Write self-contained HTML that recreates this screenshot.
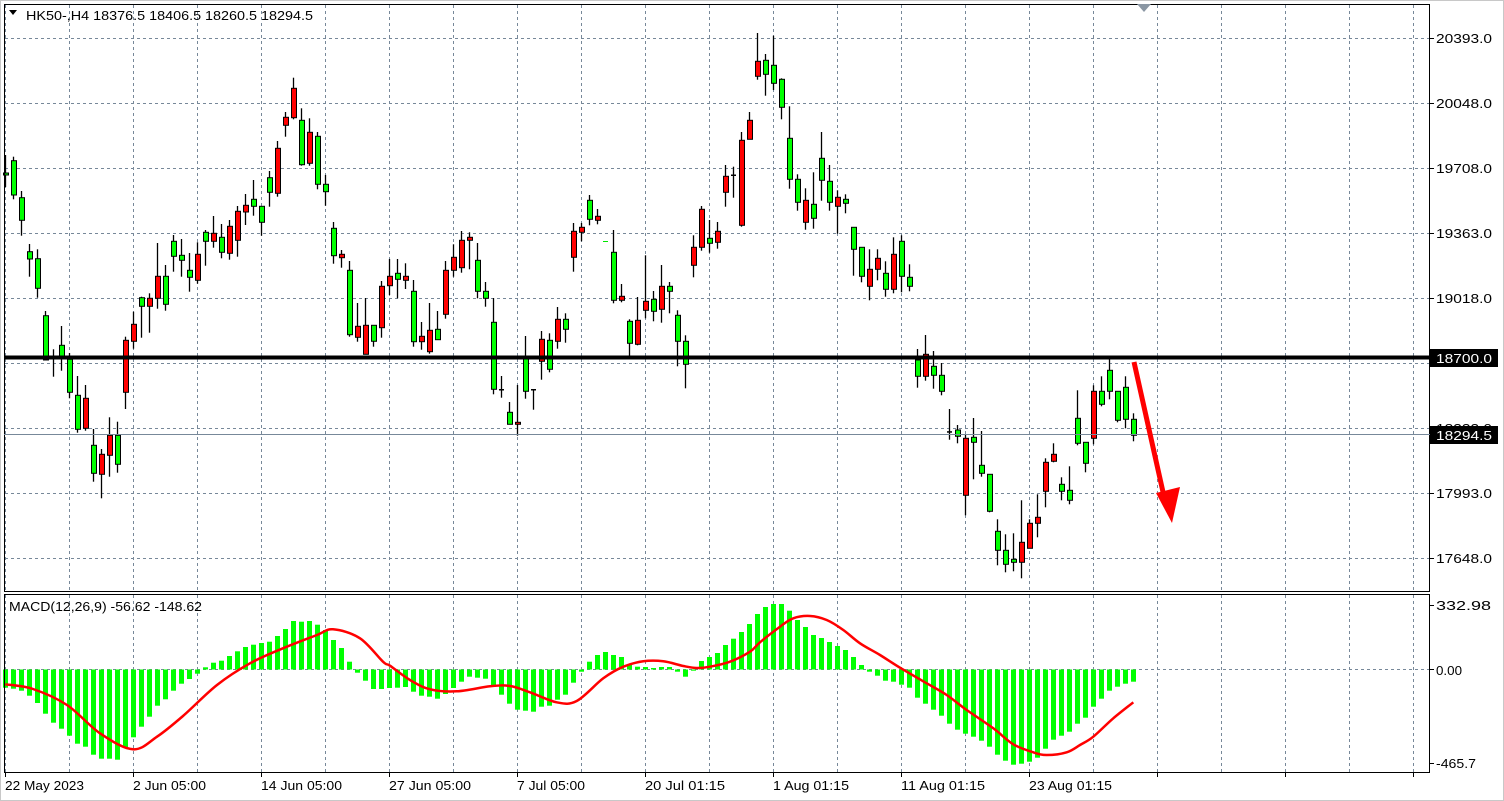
<!DOCTYPE html>
<html><head><meta charset="utf-8"><style>
html,body{margin:0;padding:0;background:#fff;width:1504px;height:801px;overflow:hidden}
svg{display:block}
text{font-family:"Liberation Sans",sans-serif;font-size:13px;fill:#000}
</style></head><body>
<svg id="s" width="1504" height="801" xmlns="http://www.w3.org/2000/svg">
<rect x="0" y="0" width="1504" height="801" fill="#fff"/>
<rect x="0.5" y="0.5" width="1503" height="800" fill="none" stroke="#c8c8c8"/>
<g id="grid"></g>
<g id="hist"></g>
<g id="cand"></g>
<rect x="4.5" y="4.5" width="1425" height="587" fill="none" stroke="#000"/>
<rect x="4.5" y="594.5" width="1425" height="178" fill="none" stroke="#000"/>
<line x1="4" y1="434.5" x2="1430" y2="434.5" stroke="#778899" stroke-width="1"/>
<line x1="4" y1="357.5" x2="1430" y2="357.5" stroke="#000" stroke-width="4"/>
<path id="sig" fill="none" stroke="#ff0000" stroke-width="2.5" stroke-linejoin="round"/>
<line x1="1134" y1="362" x2="1163" y2="492" stroke="#ff0000" stroke-width="5"/>
<polygon points="1156,493 1180,487 1172,523" fill="#ff0000"/>
<polygon points="1137,4 1151,4 1144,12" fill="#8a96a3"/>
<polygon points="9,10 17,10 13,15" fill="#000"/>
<text x="26" y="20" textLength="287" lengthAdjust="spacingAndGlyphs">HK50-,H4  18376.5 18406.5 18260.5 18294.5</text>
<text x="9" y="611" textLength="193" lengthAdjust="spacingAndGlyphs">MACD(12,26,9) -56.62 -148.62</text>
<g id="ax"></g>
<g id="lbl"></g>
<rect x="1430" y="349" width="68" height="18" fill="#000"/>
<text x="1436" y="363" style="fill:#fff" textLength="56" lengthAdjust="spacingAndGlyphs">18700.0</text>
<rect x="1430" y="426" width="68" height="18" fill="#000"/>
<text x="1436" y="440" style="fill:#fff" textLength="56" lengthAdjust="spacingAndGlyphs">18294.5</text>
</svg>
<script>
var NS="http://www.w3.org/2000/svg";
function el(p,t,a,txt){var e=document.createElementNS(NS,t);for(var k in a)e.setAttribute(k,a[k]);if(txt)e.textContent=txt;p.appendChild(e);return e;}
var grid=document.getElementById('grid'),ax=document.getElementById('ax'),lbl=document.getElementById('lbl');
for(var k=0;k<=22;k++){var x=5+64*k+0.5;
 el(grid,'line',{x1:x,y1:5,x2:x,y2:591,stroke:'#778899','stroke-dasharray':'3,3'});
 el(grid,'line',{x1:x,y1:595,x2:x,y2:772,stroke:'#778899','stroke-dasharray':'3,3'});
 if(k%2==0){el(ax,'line',{x1:x,y1:772,x2:x,y2:777,stroke:'#000'});}
}
[38,103,168,233,298,363,428,493,558].forEach(function(y){
 el(grid,'line',{x1:5,y1:y+0.5,x2:1429,y2:y+0.5,stroke:'#778899','stroke-dasharray':'3,3'});
 el(ax,'line',{x1:1430,y1:y+0.5,x2:1434,y2:y+0.5,stroke:'#000'});
});
el(grid,'line',{x1:5,y1:669.5,x2:1429,y2:669.5,stroke:'#778899','stroke-dasharray':'3,3'});
[605,669,763].forEach(function(y){el(ax,'line',{x1:1430,y1:y+0.5,x2:1434,y2:y+0.5,stroke:'#000'});});
[[1436,43,'20393.0',56],[1436,108,'20048.0',56],[1436,173,'19708.0',56],[1436,238,'19363.0',56],[1436,303,'19018.0',56],[1436,433,'18333.0',56],[1436,498,'17993.0',56],[1436,563,'17648.0',56],
 [1436,610,'332.98',55],[1436,675,'0.00',26],[1436,768,'-465.7',40],
 [5,790,'22 May 2023',79],[133,790,'2 Jun 05:00',73],[261,790,'14 Jun 05:00',81],[389,790,'27 Jun 05:00',82],[517,790,'7 Jul 05:00',68],[645,790,'20 Jul 01:15',80],[773,790,'1 Aug 01:15',76],[901,790,'11 Aug 01:15',84],[1029,790,'23 Aug 01:15',83]
].forEach(function(a){el(lbl,'text',{x:a[0],y:a[1],textLength:a[3],lengthAdjust:'spacingAndGlyphs'},a[2]);});
var C=[
[155,173,174,187,'g'],[156.7,160.7,195,199.3,'g'],[191,197.7,220.3,235.7,'g'],[244,251.7,259,276.7,'g'],[249.3,258.7,288.3,297.7,'g'],
[311,315.7,360,360,'g'],[349.3,357,358,376.7,'k'],[326,345.3,356.7,370.7,'g'],[353,359.3,392.3,398.3,'g'],[376,395.3,429.3,432.7,'g'],
[385,398.3,428.3,430.7,'r'],[429,445.3,473.3,481.7,'g'],[449,454.3,474.3,498.3,'r'],[417.3,435.3,455.3,476.7,'r'],[421.7,435.3,464.3,472.7,'g'],
[336.7,340.3,392.3,409,'r'],[311.7,324.3,341.3,348.7,'r'],[296.7,297.7,306.3,337.7,'g'],[293.3,298.3,306.3,332.7,'r'],[243,276.3,298.3,308.7,'r'],
[265,276.3,304.3,310.7,'g'],[235,241.3,256.3,271.7,'g'],[239,255.3,260.3,276.7,'g'],[253,270.3,277.3,291.7,'g'],[242.3,254.3,280.3,283.7,'r'],
[230,232.3,241.3,265.7,'g'],[216,233.3,241.3,247.7,'r'],[224,237.3,252.3,258.3,'g'],[220,226.3,253.3,259.7,'r'],[206,211.3,240.3,256.7,'r'],
[194,205.3,212,225,'r'],[180,199.3,206.3,215.7,'g'],[206.3,206.3,222.3,235.7,'g'],[171,177.7,192.3,206.7,'g'],[141,148.3,193.3,196.7,'r'],
[112,117.3,125.3,136.7,'r'],[77.7,88.3,117.7,119.3,'r'],[108.3,120.3,164.7,165.7,'g'],[118.3,132.3,163.3,165.7,'r'],[132,136.3,184.3,189.3,'g'],
[175,184.3,191.7,205.7,'g'],[222,228.3,255.7,263.7,'g'],[250,254.3,257.7,267.7,'r'],[261,270.3,334.7,336.7,'g'],[303,326.3,337.3,341.7,'r'],
[298,325.3,354.3,354.3,'r'],[325.3,325.3,341.3,346.7,'g'],[281,286.3,327.7,337.7,'r'],[259,276.3,285.7,295,'r'],[259,273.3,279.3,298.3,'g'],
[263.3,276.3,280.3,289,'r'],[280,291.3,341.7,346.7,'g'],[322,336.3,341.7,349.7,'r'],[303,330.3,351.7,353.7,'r'],[311,329.3,339.7,339.7,'g'],
[261,270.3,314.3,318.7,'r'],[244.3,257.3,270.3,276.7,'r'],[231,240.3,267.7,272.7,'r'],[232.3,237.3,240.3,269.3,'r'],[243,260.3,291.3,298.3,'g'],
[282,291.3,298.3,306.7,'g'],[298,322.3,389.3,394.3,'g'],[376,389,390,397.7,'k'],[402,412.3,424.3,424.3,'g'],[385,422.3,424.3,435.7,'r'],
[336,359,391.3,398.7,'g'],[389,389,390,409.7,'k'],[331,339.3,361.3,379.7,'r'],[333.3,340.3,369.3,372.3,'g'],[307,319.3,341.3,348.7,'r'],
[313.3,319.3,329.3,342.7,'g'],[223,231.3,257.3,271.7,'r'],[223,227.3,232.3,241.3,'r'],[195,200.3,219.3,225.3,'g'],[209,216.3,220.3,224.3,'r'],
[241,241,242,242,'d'],[230,252.3,300.3,303.3,'g'],[284,296.3,300.3,302.3,'r'],[319.3,321.3,343.3,355.7,'g'],[297,320.3,344.3,345.3,'r'],
[255.3,301.3,310.3,318.3,'r'],[291,299.3,311.3,321.3,'g'],[265,286.3,309.3,322.7,'r'],[282,286.3,291.3,313.3,'g'],[310.3,315.3,341.3,366.3,'g'],
[335.3,341.3,364.3,388.3,'g'],[235.3,247.3,265.3,277.3,'r'],[206,209.3,247.3,250.7,'r'],[220,238.3,243.3,252.7,'g'],[222,231.3,242.3,248.7,'r'],
[165,176.3,192.3,206.7,'r'],[166.7,174.5,175.5,197.7,'k'],[132,140.3,225.3,226.7,'r'],[112,120.3,139.3,139.3,'r'],[33,61.3,76.3,79.7,'r'],
[54,60.3,74.3,95.7,'g'],[35.7,65.3,83.3,90,'g'],[78.3,79.3,107.3,119.3,'g'],[106.3,138.3,179.3,188.7,'g'],[174.3,179.3,202.3,210.7,'g'],
[188.3,200.3,222.3,229.7,'r'],[172.3,204.3,218.3,228.7,'g'],[132,158.3,180.3,200.7,'g'],[165,181.3,202.3,210.7,'g'],[190.3,197.3,206.3,233.7,'r'],
[194.3,199.3,203.3,213.3,'g'],[227.3,227.3,249.3,275.7,'g'],[247.3,247.3,276.3,282.3,'g'],[249.3,269.3,286.3,300.3,'r'],[249.3,258.3,269.3,280.3,'r'],
[261.3,273.3,289.3,296.7,'g'],[237.3,254.3,289.3,293.3,'r'],[235.3,241.3,276.3,292.3,'g'],[264.3,277.3,286.3,291.3,'g'],[349,360,376.3,387.7,'g'],
[335,354.3,376.3,380.7,'r'],[351,366.3,375.3,388.7,'g'],[363,375.3,391.3,395.3,'g'],[409,431.2,432.2,439.7,'k'],[425,430,436.3,443.3,'g'],
[434.3,438.3,495.3,515.3,'r'],[418,437.3,442.3,479.3,'g'],[431,465.3,473.3,476.7,'g'],[474.3,474.3,511.3,512.3,'g'],[519.3,531.3,550.3,565.3,'g'],
[534.3,550.3,564.3,572.3,'g'],[533.3,559.3,562.3,571.3,'g'],[500.3,542.3,562.3,578.3,'r'],[519.3,523.3,548.3,548.3,'r'],[494.3,517.3,523.3,537.3,'r'],
[458.3,462.3,491.3,507.3,'r'],[443.3,454.3,461.3,462.3,'r'],[477.3,484.3,491.3,500.3,'g'],[466.3,490.3,500.3,504.3,'g'],[390.3,418.3,443.3,445.3,'g'],
[442.3,442.3,463.3,472.3,'g'],[385.3,391.3,438.3,444.3,'r'],[376.3,391.3,404.3,406.3,'g'],[359.3,370.3,391.3,399.3,'g'],[391.3,391.3,420.3,422.3,'g'],
[376.3,387.3,419.3,428.3,'g'],[413.3,419.3,435.3,441.3,'g']];
var cg=document.getElementById('cand');
C.forEach(function(c,i){
 var x=Math.round(5.3+8*i);
 if(c[4]=='d'){el(cg,'rect',{x:x-2,y:c[1],width:5,height:1,fill:'#00e600'});return;}
 el(cg,'line',{x1:x+0.5,y1:c[0],x2:x+0.5,y2:c[3],stroke:'#000','stroke-width':1.3});
 if(c[4]=='k'){el(cg,'rect',{x:x-2,y:c[1],width:5,height:1.5,fill:'#000'});return;}
 var h=Math.max(c[2]-c[1],2);
 el(cg,'rect',{x:x-1.5,y:c[1],width:5,height:h,fill:c[4]=='g'?'#00ff00':'#ff0000',stroke:'#000','stroke-width':1});
});
var H=[687.7,688.7,690.7,695.7,703,713.7,722.7,728.7,735.7,743.7,746.7,754.7,758.7,758.7,759.7,747.7,737.3,726.7,716.7,705.7,
699.3,690.7,683.7,679,673.7,667.3,662.7,660.7,656,651.3,647,644.7,643,641.7,636,629,621,621.7,621,624.7,
630,640,648,661.7,672.7,680.7,689,689,688,
687.7,687,691.7,695.7,696.7,698.7,694,688,681.7,676.7,677.7,678.7,685,694.7,703.7,709.7,710.7,711.7,706.7,705.7,
699.7,694.7,682.7,671.7,661.7,655,652,655,657,664,666.7,667,668,667,667,671.7,676.7,670.7,661,657,653,645,638.7,632,624,614,
607,604,604,610.7,620,627,635,638,642,646,650,657,665,671.7,675.7,680.7,681.7,684.7,687.7,697.7,703.7,709.7,715.7,723.7,729.7,
733.7,736.7,740.7,746.7,754.7,760.7,764.7,763.7,761.7,757.7,748.7,739.7,735.7,731.7,723.7,717.7,706.7,698.7,690.7,686.7,683.7,681.7];
var hg=document.getElementById('hist');
H.forEach(function(v,i){var x=Math.round(5.3+8*i)-2;var z=669.5;
 var y=Math.min(v,z),h=Math.abs(v-z);if(h<1)h=1;
 el(hg,'rect',{x:x,y:y,width:5,height:h,fill:'#00ff00'});});
var S=[[5.3,684.3],[33,689],[67,705],[100,733.3],[133,749.3],[157,736.7],[183,716],[217,685],[250,663.3],[283,648.3],[317,635],[333,629.3],[360,638.3],[383,661.7],
[390,665.7],[410,680],[430,689.3],[456.7,691.3],[490,686.3],[510,686],[530,692.3],[556.7,702.3],[576.7,701],[603.3,678.3],[623.3,666.7],[643.3,661.3],[663.3,661.3],[683.3,666],[696.7,668],[710,666.7],[730,661.7],[750,651.7],
[760,642.3],[780,626.7],[793.3,618.3],[810,616],[826.7,620],[843.3,630],[860,643.3],[880,655],[900,667.7],[926.7,683.3],[946.7,695],[966.7,710],[993.3,728.3],[1013.3,744.3],[1033.3,752.3],[1046.7,755],[1066.7,752.3],[1080,745],[1093.3,736.7],[1113.3,718.3],[1133.3,702.3]];
var d='M'+S[0][0]+','+S[0][1];
for(var i=0;i<S.length-1;i++){
 var p0=S[Math.max(i-1,0)],p1=S[i],p2=S[i+1],p3=S[Math.min(i+2,S.length-1)];
 var c1x=p1[0]+(p2[0]-p0[0])/6,c1y=p1[1]+(p2[1]-p0[1])/6,c2x=p2[0]-(p3[0]-p1[0])/6,c2y=p2[1]-(p3[1]-p1[1])/6;
 d+=' C'+c1x.toFixed(1)+','+c1y.toFixed(1)+' '+c2x.toFixed(1)+','+c2y.toFixed(1)+' '+p2[0]+','+p2[1];
}
document.getElementById('sig').setAttribute('d',d);
</script>
</body></html>
